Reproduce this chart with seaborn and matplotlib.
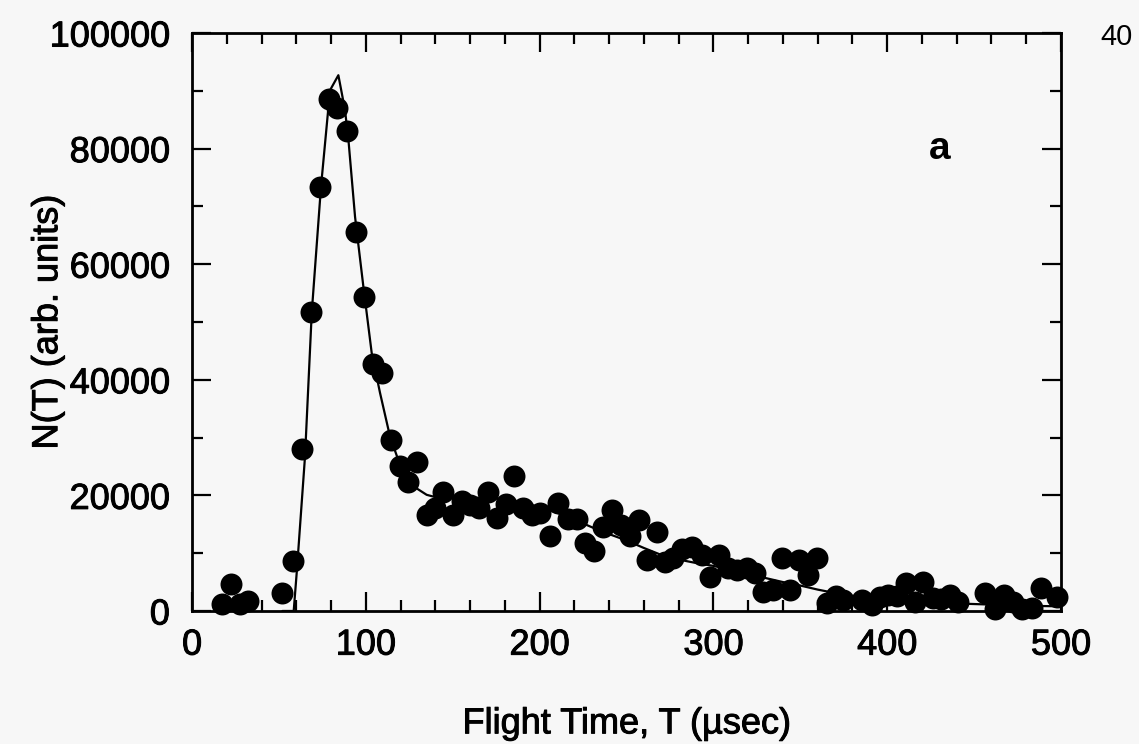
import numpy as np
import pandas as pd
import matplotlib
matplotlib.use("Agg")
import matplotlib.pyplot as plt
import matplotlib.patheffects as pe
from matplotlib.ticker import MultipleLocator
import seaborn as sns

# Measured time-of-flight spectrum (flight time in microseconds, counts)
flight_time = [
    17.3, 22.4, 27.4, 32.2, 52.0, 58.3, 63.0, 68.3, 73.6, 78.9,
    83.7, 88.9, 94.4, 99.0, 104.0, 109.2, 114.2, 119.7, 124.5, 129.3,
    135.0, 139.8, 144.6, 150.2, 155.2, 160.0, 165.0, 170.5, 175.2, 180.7,
    185.4, 190.6, 195.5, 200.2, 206.0, 210.4, 216.5, 221.3, 226.1, 231.3,
    236.7, 241.5, 247.0, 252.0, 257.4, 261.6, 267.4, 272.2, 276.9, 281.7,
    287.5, 293.3, 298.0, 303.4, 308.6, 313.4, 319.2, 324.0, 328.8, 334.5,
    339.3, 344.1, 349.4, 354.6, 359.4, 365.2, 370.4, 374.7, 385.3, 391.0,
    396.0, 400.6, 405.4, 410.9, 416.0, 420.8, 426.4, 431.2, 436.1, 440.9,
    456.5, 462.0, 467.2, 472.6, 477.4, 483.1, 488.7, 497.5,
]
counts = [
    1200, 4700, 1200, 1800, 3100, 8650, 28000, 51700, 73400, 88600,
    87100, 83000, 65500, 54400, 42700, 41100, 29600, 25100, 22400, 25700,
    16600, 17900, 20600, 16600, 19100, 18400, 17900, 20600, 16100, 18500,
    23400, 17800, 16600, 17000, 12900, 18600, 15900, 16000, 11800, 10300,
    14500, 17500, 14900, 13000, 15700, 8800, 13700, 8500, 9100, 10800,
    11100, 9700, 5900, 9700, 7400, 7100, 7400, 6500, 3300, 3600,
    9100, 3600, 8800, 6200, 9100, 1300, 2600, 1900, 1900, 1000,
    2500, 2800, 2600, 4800, 1500, 5000, 2300, 2100, 2800, 1600,
    3100, 300, 2800, 1600, 300, 600, 3900, 2500,
]

# Fitted model curve
fit_time = [
    52, 58.5, 60.2, 65.0, 68.9, 74.2, 79.4, 84.2, 88.0, 90.0,
    93.8, 98.6, 103.4, 108.2, 113.9, 118.7, 124.0, 129.3, 135.0, 140.0,
    150.0, 160.0, 170.0, 180.0, 190.0, 200.0, 210.0, 220.0, 230.0, 240.0,
    250.0, 260.0, 270.0, 280.0, 290.0, 300.0, 310.0, 320.0, 330.0, 340.0,
    350.0, 360.0, 370.0, 380.0, 400.0, 420.0, 440.0, 460.0, 480.0, 500.0,
]
fit_counts = [
    0, 0, 6500, 26700, 51700, 73400, 90100, 92700, 86700, 81500,
    68200, 56100, 44600, 37700, 30200, 26100, 23300, 21200, 20100, 19700,
    19600, 19600, 19600, 19300, 18800, 17900, 17000, 15800, 14500, 13300,
    12200, 10900, 9700, 8900, 8300, 7800, 7100, 6500, 5700, 5000,
    4400, 3700, 3100, 2600, 2000, 1600, 1300, 1100, 900, 800,
]

data = pd.DataFrame({"T": flight_time, "N": counts})
fit = pd.DataFrame({"T": fit_time, "N": fit_counts})

sns.set_theme(style="ticks")
plt.rcParams["font.family"] = ["Liberation Sans", "DejaVu Sans"]

bg = "#f7f7f7"
ink = [pe.withStroke(linewidth=0.7, foreground="black")]

fig = plt.figure(figsize=(11.39, 7.44), dpi=100, facecolor=bg)
ax = fig.add_axes([0.1686, 0.1788, 0.7629, 0.7768], facecolor=bg)

sns.lineplot(data=fit, x="T", y="N", ax=ax, color="black", linewidth=1.6,
             sort=False, estimator=None, zorder=2)
sns.scatterplot(data=data, x="T", y="N", ax=ax, color="black", s=250,
                edgecolor="black", linewidth=0, zorder=3, clip_on=False)

ax.set_xlim(0, 500)
ax.set_ylim(0, 100000)
ax.xaxis.set_major_locator(MultipleLocator(100))
ax.xaxis.set_minor_locator(MultipleLocator(20))
ax.yaxis.set_major_locator(MultipleLocator(20000))
ax.yaxis.set_minor_locator(MultipleLocator(10000))

for side in ["top", "right", "bottom", "left"]:
    ax.spines[side].set_visible(True)
    ax.spines[side].set_linewidth(2.0)
    ax.spines[side].set_color("black")

ax.tick_params(which="both", direction="in", top=True, right=True,
               color="black", width=1.6)
ax.tick_params(which="major", length=14, labelsize=26, labelcolor="black")
ax.tick_params(which="minor", length=8)
ax.tick_params(axis="x", which="major", pad=12)
ax.tick_params(axis="y", which="major", pad=16)
for lab in ax.get_xticklabels() + ax.get_yticklabels():
    lab.set_path_effects(ink)

ax.set_xlabel("Flight Time, T (\u00b5sec)", fontsize=26, color="black",
              path_effects=ink)
ax.set_ylabel("N(T) (arb. units)", fontsize=26, color="black",
              path_effects=ink)
ax.xaxis.set_label_coords(0.5, -0.165)
ax.yaxis.set_label_coords(-0.146, 0.5)

ax.text(430, 80000, "a", fontsize=28, fontweight="bold", ha="center",
        va="center", color="black")
fig.text(0.9805, 0.950, "40", fontsize=21, ha="center", va="center",
         color="black")

fig.savefig("out.png", dpi=100, facecolor=bg)
